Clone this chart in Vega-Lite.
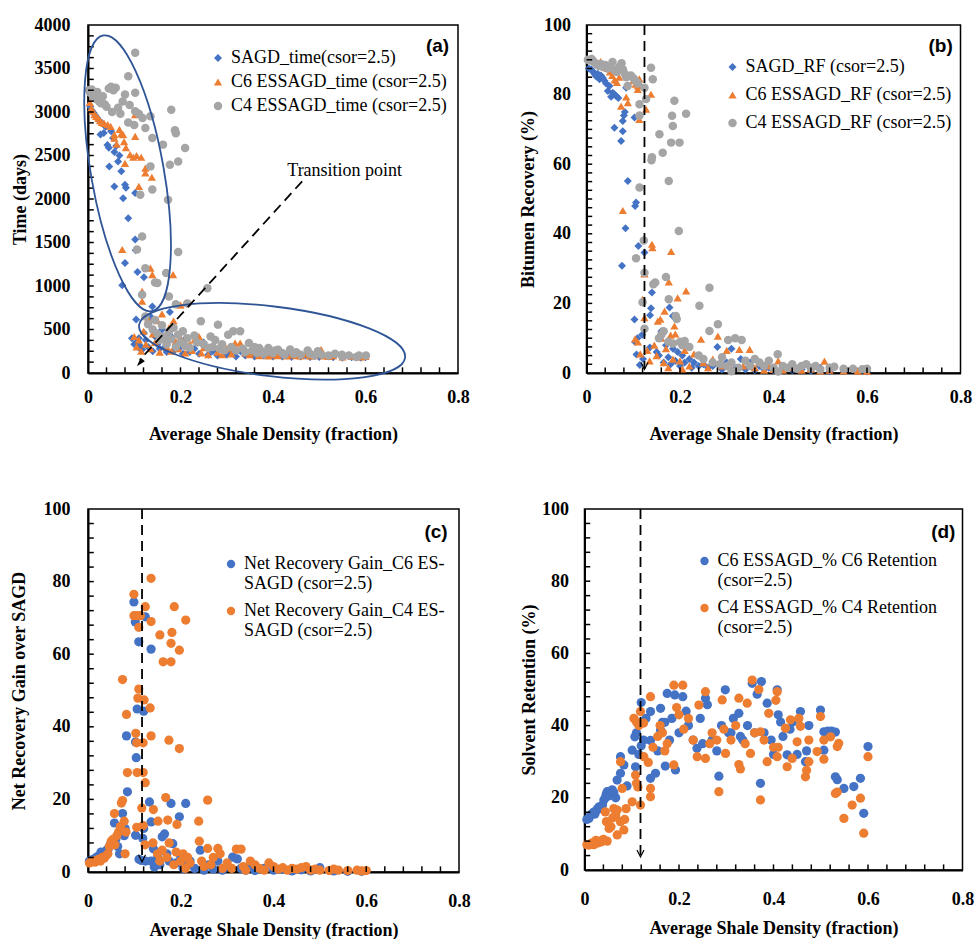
{
"$schema":"https://vega.github.io/schema/vega-lite/v6.json",
"background":"white",
"padding":{"top":15,"left":9,"right":0,"bottom":0},
"config":{
 "view":{"stroke":"black","strokeWidth":1.5},
 "axis":{"grid":false,"domainColor":"black","domainWidth":2,"ticks":false,"labelFont":"Liberation Serif","labelFontSize":18,"labelFontWeight":"bold","labelColor":"black","titleFont":"Liberation Serif","titleFontSize":18,"titleFontWeight":"bold","titleColor":"black","labelFlush":false,"labelOverlap":false},
 "legend":{"labelFont":"Liberation Serif","labelFontSize":18,"labelColor":"black","labelLimit":0}
},
"datasets":{
"xt":[{"t":0.04},{"t":0.08},{"t":0.12},{"t":0.16},{"t":0.2},{"t":0.24},{"t":0.28},{"t":0.32},{"t":0.36},{"t":0.4},{"t":0.44},{"t":0.48},{"t":0.52},{"t":0.56},{"t":0.6},{"t":0.64},{"t":0.68},{"t":0.72},{"t":0.76}],
"yta":[{"t":125},{"t":250},{"t":375},{"t":500},{"t":625},{"t":750},{"t":875},{"t":1000},{"t":1125},{"t":1250},{"t":1375},{"t":1500},{"t":1625},{"t":1750},{"t":1875},{"t":2000},{"t":2125},{"t":2250},{"t":2375},{"t":2500},{"t":2625},{"t":2750},{"t":2875},{"t":3000},{"t":3125},{"t":3250},{"t":3375},{"t":3500},{"t":3625},{"t":3750},{"t":3875}],
"ytb":[{"t":2.5},{"t":5},{"t":7.5},{"t":10},{"t":12.5},{"t":15},{"t":17.5},{"t":20},{"t":22.5},{"t":25},{"t":27.5},{"t":30},{"t":32.5},{"t":35},{"t":37.5},{"t":40},{"t":42.5},{"t":45},{"t":47.5},{"t":50},{"t":52.5},{"t":55},{"t":57.5},{"t":60},{"t":62.5},{"t":65},{"t":67.5},{"t":70},{"t":72.5},{"t":75},{"t":77.5},{"t":80},{"t":82.5},{"t":85},{"t":87.5},{"t":90},{"t":92.5},{"t":95},{"t":97.5}],
"ytc":[{"t":4},{"t":8},{"t":12},{"t":16},{"t":20},{"t":24},{"t":28},{"t":32},{"t":36},{"t":40},{"t":44},{"t":48},{"t":52},{"t":56},{"t":60},{"t":64},{"t":68},{"t":72},{"t":76},{"t":80},{"t":84},{"t":88},{"t":92},{"t":96}],
"a":[
{"s":"S","x":0.005,"y":3060},{"s":"S","x":0.008,"y":3020},{"s":"S","x":0.012,"y":2990},{"s":"S","x":0.016,"y":2960},{"s":"S","x":0.02,"y":2930},{"s":"S","x":0.024,"y":2900},{"s":"S","x":0.027,"y":2740},{"s":"S","x":0.031,"y":2870},{"s":"S","x":0.034,"y":2760},{"s":"S","x":0.038,"y":2830},{"s":"S","x":0.042,"y":2620},{"s":"S","x":0.045,"y":2590},{"s":"S","x":0.046,"y":2375},{"s":"S","x":0.05,"y":2780},{"s":"S","x":0.054,"y":2700},{"s":"S","x":0.057,"y":2540},{"s":"S","x":0.057,"y":2145},{"s":"S","x":0.061,"y":2610},{"s":"S","x":0.065,"y":2430},{"s":"S","x":0.068,"y":2500},{"s":"S","x":0.072,"y":2320},{"s":"S","x":0.076,"y":2010},{"s":"S","x":0.08,"y":2165},{"s":"S","x":0.082,"y":2130},{"s":"S","x":0.087,"y":1780},{"s":"S","x":0.102,"y":2070},{"s":"S","x":0.102,"y":1535},{"s":"S","x":0.103,"y":1410},{"s":"S","x":0.08,"y":1265},{"s":"S","x":0.107,"y":1160},{"s":"S","x":0.121,"y":1100},{"s":"S","x":0.074,"y":1010},{"s":"S","x":0.139,"y":765},{"s":"S","x":0.104,"y":615},{"s":"S","x":0.135,"y":650},{"s":"S","x":0.095,"y":400},{"s":"S","x":0.11,"y":400},{"s":"S","x":0.121,"y":460},{"s":"S","x":0.11,"y":290},{"s":"S","x":0.117,"y":270},
{"s":"S","x":0.1,"y":330},{"s":"S","x":0.105,"y":350},{"s":"S","x":0.113,"y":310},{"s":"S","x":0.125,"y":380},{"s":"S","x":0.13,"y":300},{"s":"S","x":0.14,"y":250},{"s":"S","x":0.145,"y":420},{"s":"S","x":0.15,"y":330},{"s":"S","x":0.155,"y":280},{"s":"S","x":0.16,"y":500},{"s":"S","x":0.165,"y":290},{"s":"S","x":0.17,"y":240},{"s":"S","x":0.177,"y":700},{"s":"S","x":0.18,"y":420},{"s":"S","x":0.185,"y":250},{"s":"S","x":0.19,"y":330},{"s":"S","x":0.2,"y":300},{"s":"S","x":0.205,"y":220},{"s":"S","x":0.21,"y":390},{"s":"S","x":0.22,"y":240},{"s":"S","x":0.23,"y":280},{"s":"S","x":0.24,"y":220},{"s":"S","x":0.25,"y":350},{"s":"S","x":0.26,"y":210},{"s":"S","x":0.27,"y":250},{"s":"S","x":0.28,"y":200},{"s":"S","x":0.29,"y":260},{"s":"S","x":0.3,"y":210},{"s":"S","x":0.31,"y":230},{"s":"S","x":0.32,"y":190},{"s":"S","x":0.33,"y":250},{"s":"S","x":0.34,"y":200},{"s":"S","x":0.35,"y":220},{"s":"S","x":0.36,"y":190},{"s":"S","x":0.37,"y":230},{"s":"S","x":0.38,"y":200},{"s":"S","x":0.39,"y":210},{"s":"S","x":0.4,"y":190},{"s":"S","x":0.41,"y":220},{"s":"S","x":0.42,"y":190},{"s":"S","x":0.43,"y":200},{"s":"S","x":0.44,"y":185},{"s":"S","x":0.45,"y":210},{"s":"S","x":0.46,"y":190},{"s":"S","x":0.47,"y":200},{"s":"S","x":0.48,"y":185},{"s":"S","x":0.49,"y":195},{"s":"S","x":0.5,"y":185},{"s":"S","x":0.52,"y":190},{"s":"S","x":0.53,"y":180},{"s":"S","x":0.55,"y":175},{"s":"S","x":0.57,"y":180},{"s":"S","x":0.59,"y":175},{"s":"S","x":0.6,"y":180},
{"s":"C6","x":0.004,"y":3110},{"s":"C6","x":0.0074,"y":3045},{"s":"C6","x":0.01,"y":3010},{"s":"C6","x":0.014,"y":2970},{"s":"C6","x":0.018,"y":2950},{"s":"C6","x":0.022,"y":2930},{"s":"C6","x":0.026,"y":2900},{"s":"C6","x":0.03,"y":2880},{"s":"C6","x":0.035,"y":2870},{"s":"C6","x":0.0425,"y":2855},{"s":"C6","x":0.049,"y":2835},{"s":"C6","x":0.057,"y":2740},{"s":"C6","x":0.057,"y":2700},{"s":"C6","x":0.062,"y":2630},{"s":"C6","x":0.068,"y":2800},{"s":"C6","x":0.072,"y":2750},{"s":"C6","x":0.076,"y":2740},{"s":"C6","x":0.078,"y":2660},{"s":"C6","x":0.082,"y":2590},{"s":"C6","x":0.08,"y":2410},{"s":"C6","x":0.091,"y":2510},{"s":"C6","x":0.098,"y":2480},{"s":"C6","x":0.102,"y":2720},{"s":"C6","x":0.102,"y":2970},{"s":"C6","x":0.105,"y":2500},{"s":"C6","x":0.115,"y":2480},{"s":"C6","x":0.124,"y":2355},{"s":"C6","x":0.124,"y":2300},{"s":"C6","x":0.138,"y":2250},{"s":"C6","x":0.11,"y":2145},{"s":"C6","x":0.074,"y":1420},{"s":"C6","x":0.135,"y":1205},{"s":"C6","x":0.139,"y":1130},{"s":"C6","x":0.184,"y":1130},{"s":"C6","x":0.117,"y":940},{"s":"C6","x":0.117,"y":825},{"s":"C6","x":0.21,"y":805},{"s":"C6","x":0.2,"y":780},
{"s":"C6","x":0.1,"y":420},{"s":"C6","x":0.105,"y":300},{"s":"C6","x":0.11,"y":380},{"s":"C6","x":0.115,"y":250},{"s":"C6","x":0.12,"y":480},{"s":"C6","x":0.125,"y":330},{"s":"C6","x":0.13,"y":620},{"s":"C6","x":0.135,"y":280},{"s":"C6","x":0.14,"y":450},{"s":"C6","x":0.145,"y":350},{"s":"C6","x":0.15,"y":600},{"s":"C6","x":0.155,"y":240},{"s":"C6","x":0.16,"y":680},{"s":"C6","x":0.165,"y":400},{"s":"C6","x":0.17,"y":300},{"s":"C6","x":0.175,"y":520},{"s":"C6","x":0.18,"y":250},{"s":"C6","x":0.185,"y":600},{"s":"C6","x":0.19,"y":360},{"s":"C6","x":0.195,"y":280},{"s":"C6","x":0.2,"y":400},{"s":"C6","x":0.21,"y":230},{"s":"C6","x":0.22,"y":330},{"s":"C6","x":0.225,"y":260},{"s":"C6","x":0.23,"y":380},{"s":"C6","x":0.24,"y":420},{"s":"C6","x":0.245,"y":230},{"s":"C6","x":0.25,"y":290},{"s":"C6","x":0.26,"y":210},{"s":"C6","x":0.27,"y":310},{"s":"C6","x":0.28,"y":240},{"s":"C6","x":0.29,"y":210},{"s":"C6","x":0.3,"y":280},{"s":"C6","x":0.31,"y":220},{"s":"C6","x":0.318,"y":345},{"s":"C6","x":0.329,"y":345},{"s":"C6","x":0.34,"y":230},{"s":"C6","x":0.35,"y":210},{"s":"C6","x":0.36,"y":240},{"s":"C6","x":0.37,"y":200},{"s":"C6","x":0.38,"y":220},{"s":"C6","x":0.39,"y":195},{"s":"C6","x":0.4,"y":210},{"s":"C6","x":0.41,"y":200},{"s":"C6","x":0.42,"y":230},{"s":"C6","x":0.43,"y":195},{"s":"C6","x":0.44,"y":210},{"s":"C6","x":0.45,"y":200},{"s":"C6","x":0.46,"y":195},{"s":"C6","x":0.47,"y":215},{"s":"C6","x":0.48,"y":195},{"s":"C6","x":0.49,"y":200},{"s":"C6","x":0.504,"y":270},{"s":"C6","x":0.51,"y":195},{"s":"C6","x":0.52,"y":190},{"s":"C6","x":0.53,"y":200},{"s":"C6","x":0.55,"y":185},{"s":"C6","x":0.57,"y":190},{"s":"C6","x":0.59,"y":185},{"s":"C6","x":0.6,"y":190},
{"s":"C4","x":0.002,"y":3250},{"s":"C4","x":0.005,"y":3220},{"s":"C4","x":0.008,"y":3260},{"s":"C4","x":0.011,"y":3180},{"s":"C4","x":0.014,"y":3200},{"s":"C4","x":0.017,"y":3150},{"s":"C4","x":0.02,"y":3230},{"s":"C4","x":0.024,"y":3120},{"s":"C4","x":0.028,"y":3100},{"s":"C4","x":0.032,"y":3180},{"s":"C4","x":0.036,"y":3090},{"s":"C4","x":0.04,"y":3060},{"s":"C4","x":0.045,"y":3270},{"s":"C4","x":0.05,"y":3290},{"s":"C4","x":0.055,"y":3250},{"s":"C4","x":0.06,"y":3280},{"s":"C4","x":0.052,"y":3000},{"s":"C4","x":0.065,"y":3050},{"s":"C4","x":0.07,"y":2980},{"s":"C4","x":0.075,"y":3120},{"s":"C4","x":0.08,"y":3200},{"s":"C4","x":0.087,"y":3410},{"s":"C4","x":0.102,"y":3680},{"s":"C4","x":0.102,"y":3220},{"s":"C4","x":0.09,"y":3080},{"s":"C4","x":0.102,"y":3010},{"s":"C4","x":0.11,"y":2980},{"s":"C4","x":0.118,"y":2930},{"s":"C4","x":0.087,"y":2880},{"s":"C4","x":0.1,"y":2850},{"s":"C4","x":0.124,"y":2815},{"s":"C4","x":0.135,"y":2950},{"s":"C4","x":0.18,"y":3025},{"s":"C4","x":0.139,"y":2700},{"s":"C4","x":0.162,"y":2625},{"s":"C4","x":0.188,"y":2790},{"s":"C4","x":0.19,"y":2757},{"s":"C4","x":0.21,"y":2585},{"s":"C4","x":0.135,"y":2375},{"s":"C4","x":0.177,"y":2395},{"s":"C4","x":0.195,"y":2430},{"s":"C4","x":0.113,"y":2050},{"s":"C4","x":0.139,"y":2110},{"s":"C4","x":0.173,"y":1990},{"s":"C4","x":0.117,"y":1570},{"s":"C4","x":0.106,"y":1420},{"s":"C4","x":0.195,"y":1390},{"s":"C4","x":0.124,"y":1205},{"s":"C4","x":0.15,"y":1035},{"s":"C4","x":0.145,"y":1040},{"s":"C4","x":0.169,"y":1150},{"s":"C4","x":0.117,"y":900},{"s":"C4","x":0.258,"y":975},{"s":"C4","x":0.175,"y":880},{"s":"C4","x":0.19,"y":790},{"s":"C4","x":0.215,"y":800},
{"s":"C4","x":0.124,"y":650},{"s":"C4","x":0.13,"y":560},{"s":"C4","x":0.14,"y":500},{"s":"C4","x":0.145,"y":610},{"s":"C4","x":0.15,"y":450},{"s":"C4","x":0.155,"y":380},{"s":"C4","x":0.16,"y":550},{"s":"C4","x":0.165,"y":420},{"s":"C4","x":0.17,"y":330},{"s":"C4","x":0.175,"y":480},{"s":"C4","x":0.18,"y":390},{"s":"C4","x":0.185,"y":520},{"s":"C4","x":0.19,"y":300},{"s":"C4","x":0.195,"y":440},{"s":"C4","x":0.2,"y":350},{"s":"C4","x":0.205,"y":480},{"s":"C4","x":0.21,"y":310},{"s":"C4","x":0.215,"y":400},{"s":"C4","x":0.22,"y":290},{"s":"C4","x":0.23,"y":430},{"s":"C4","x":0.236,"y":350},{"s":"C4","x":0.244,"y":595},{"s":"C4","x":0.25,"y":330},{"s":"C4","x":0.26,"y":290},{"s":"C4","x":0.265,"y":420},{"s":"C4","x":0.27,"y":300},{"s":"C4","x":0.275,"y":380},{"s":"C4","x":0.281,"y":556},{"s":"C4","x":0.285,"y":280},{"s":"C4","x":0.29,"y":330},{"s":"C4","x":0.295,"y":260},{"s":"C4","x":0.303,"y":440},{"s":"C4","x":0.31,"y":300},{"s":"C4","x":0.314,"y":480},{"s":"C4","x":0.32,"y":260},{"s":"C4","x":0.329,"y":480},{"s":"C4","x":0.335,"y":280},{"s":"C4","x":0.34,"y":240},{"s":"C4","x":0.348,"y":345},{"s":"C4","x":0.355,"y":260},{"s":"C4","x":0.36,"y":300},{"s":"C4","x":0.365,"y":230},{"s":"C4","x":0.37,"y":287},{"s":"C4","x":0.375,"y":250},{"s":"C4","x":0.38,"y":220},{"s":"C4","x":0.39,"y":287},{"s":"C4","x":0.395,"y":240},{"s":"C4","x":0.4,"y":230},{"s":"C4","x":0.405,"y":260},{"s":"C4","x":0.411,"y":268},{"s":"C4","x":0.42,"y":230},{"s":"C4","x":0.425,"y":210},{"s":"C4","x":0.437,"y":270},{"s":"C4","x":0.445,"y":220},{"s":"C4","x":0.45,"y":240},{"s":"C4","x":0.46,"y":210},{"s":"C4","x":0.475,"y":260},{"s":"C4","x":0.48,"y":220},{"s":"C4","x":0.49,"y":200},{"s":"C4","x":0.497,"y":250},{"s":"C4","x":0.505,"y":210},{"s":"C4","x":0.52,"y":200},{"s":"C4","x":0.534,"y":222},{"s":"C4","x":0.549,"y":210},{"s":"C4","x":0.564,"y":200},{"s":"C4","x":0.586,"y":200},{"s":"C4","x":0.601,"y":200},{"s":"C4","x":0.58,"y":185},{"s":"C4","x":0.55,"y":190}
],
"b":[
{"s":"S","x":0.005,"y":87.5},{"s":"S","x":0.0098,"y":87.3},{"s":"S","x":0.012,"y":86.8},{"s":"S","x":0.015,"y":86.5},{"s":"S","x":0.018,"y":85.8},{"s":"S","x":0.021,"y":85.2},{"s":"S","x":0.024,"y":86},{"s":"S","x":0.0278,"y":84.4},{"s":"S","x":0.031,"y":85.5},{"s":"S","x":0.035,"y":84.8},{"s":"S","x":0.0385,"y":84},{"s":"S","x":0.042,"y":83.2},{"s":"S","x":0.0456,"y":81},{"s":"S","x":0.049,"y":82.5},{"s":"S","x":0.0527,"y":79.4},{"s":"S","x":0.056,"y":80.5},{"s":"S","x":0.06,"y":80},{"s":"S","x":0.064,"y":79.5},{"s":"S","x":0.068,"y":79},{"s":"S","x":0.0598,"y":70.5},{"s":"S","x":0.0776,"y":69.5},{"s":"S","x":0.074,"y":66.7},{"s":"S","x":0.0776,"y":72.4},{"s":"S","x":0.08,"y":74},{"s":"S","x":0.082,"y":75},{"s":"S","x":0.0848,"y":82},{"s":"S","x":0.1027,"y":73.4},{"s":"S","x":0.0884,"y":55.2},{"s":"S","x":0.104,"y":48},{"s":"S","x":0.106,"y":49},{"s":"S","x":0.0834,"y":41.6},{"s":"S","x":0.111,"y":36.5},{"s":"S","x":0.124,"y":34.6},{"s":"S","x":0.076,"y":30.8},{"s":"S","x":0.14,"y":23.1},{"s":"S","x":0.138,"y":18.6},{"s":"S","x":0.1027,"y":15.4},{"s":"S","x":0.136,"y":16.6},{"s":"S","x":0.1775,"y":18.8},{"s":"S","x":0.1846,"y":16.4},{"s":"S","x":0.104,"y":8.9},{"s":"S","x":0.109,"y":10},{"s":"S","x":0.1355,"y":7.3},{"s":"S","x":0.107,"y":5.3},{"s":"S","x":0.114,"y":2.3},{"s":"S","x":0.119,"y":11},{"s":"S","x":0.121,"y":4},{"s":"S","x":0.15,"y":6},{"s":"S","x":0.155,"y":5},{"s":"S","x":0.16,"y":12},{"s":"S","x":0.165,"y":3},{"s":"S","x":0.17,"y":8},{"s":"S","x":0.175,"y":4.5},{"s":"S","x":0.18,"y":2.5},{"s":"S","x":0.185,"y":7},{"s":"S","x":0.19,"y":3.5},{"s":"S","x":0.195,"y":6},{"s":"S","x":0.2,"y":2},{"s":"S","x":0.205,"y":5},{"s":"S","x":0.21,"y":3},{"s":"S","x":0.22,"y":4},{"s":"S","x":0.225,"y":1.5},{"s":"S","x":0.23,"y":3},{"s":"S","x":0.24,"y":2},{"s":"S","x":0.25,"y":2.5},{"s":"S","x":0.26,"y":1.5},{"s":"S","x":0.27,"y":2},{"s":"S","x":0.28,"y":7.5},{"s":"S","x":0.29,"y":1},{"s":"S","x":0.3,"y":3},{"s":"S","x":0.31,"y":7},{"s":"S","x":0.32,"y":1.5},{"s":"S","x":0.33,"y":4},{"s":"S","x":0.34,"y":1},{"s":"S","x":0.35,"y":3},{"s":"S","x":0.36,"y":0.8},{"s":"S","x":0.37,"y":2},{"s":"S","x":0.38,"y":1},{"s":"S","x":0.39,"y":1.5},{"s":"S","x":0.4,"y":0.8},{"s":"S","x":0.42,"y":1.2},{"s":"S","x":0.44,"y":0.8},{"s":"S","x":0.46,"y":1},{"s":"S","x":0.48,"y":0.6},{"s":"S","x":0.5,"y":1.5},{"s":"S","x":0.52,"y":0.5},{"s":"S","x":0.55,"y":0.6},{"s":"S","x":0.58,"y":0.5},{"s":"S","x":0.6,"y":0.4},
{"s":"C6","x":0.005,"y":90},{"s":"C6","x":0.01,"y":90},{"s":"C6","x":0.015,"y":89.8},{"s":"C6","x":0.02,"y":89.5},{"s":"C6","x":0.025,"y":89},{"s":"C6","x":0.03,"y":89.5},{"s":"C6","x":0.035,"y":88.8},{"s":"C6","x":0.04,"y":88.2},{"s":"C6","x":0.045,"y":87.5},{"s":"C6","x":0.05,"y":86.5},{"s":"C6","x":0.055,"y":85.5},{"s":"C6","x":0.06,"y":84.2},{"s":"C6","x":0.065,"y":83.5},{"s":"C6","x":0.07,"y":85},{"s":"C6","x":0.074,"y":76.7},{"s":"C6","x":0.085,"y":79.3},{"s":"C6","x":0.0884,"y":77.7},{"s":"C6","x":0.1,"y":84},{"s":"C6","x":0.105,"y":83},{"s":"C6","x":0.11,"y":82.5},{"s":"C6","x":0.113,"y":84.5},{"s":"C6","x":0.1097,"y":81.5},{"s":"C6","x":0.113,"y":72.9},{"s":"C6","x":0.138,"y":80.1},{"s":"C6","x":0.1275,"y":75.8},{"s":"C6","x":0.0777,"y":46.7},{"s":"C6","x":0.14,"y":37},{"s":"C6","x":0.141,"y":36},{"s":"C6","x":0.181,"y":34.9},{"s":"C6","x":0.176,"y":26.2},{"s":"C6","x":0.213,"y":23.6},{"s":"C6","x":0.195,"y":21.6},{"s":"C6","x":0.12,"y":21.2},{"s":"C6","x":0.124,"y":28.5},{"s":"C6","x":0.124,"y":15.9},{"s":"C6","x":0.167,"y":17.8},{"s":"C6","x":0.1525,"y":14.9},{"s":"C6","x":0.158,"y":15.5},{"s":"C6","x":0.188,"y":13.5},{"s":"C6","x":0.18,"y":10.9},{"s":"C6","x":0.19,"y":11.2},{"s":"C6","x":0.104,"y":9.8},{"s":"C6","x":0.11,"y":8.9},{"s":"C6","x":0.115,"y":5.5},{"s":"C6","x":0.13,"y":6.5},{"s":"C6","x":0.135,"y":3.5},{"s":"C6","x":0.145,"y":8},{"s":"C6","x":0.15,"y":5},{"s":"C6","x":0.16,"y":10},{"s":"C6","x":0.165,"y":3},{"s":"C6","x":0.17,"y":7},{"s":"C6","x":0.175,"y":1.5},{"s":"C6","x":0.185,"y":4},{"s":"C6","x":0.2,"y":3.5},{"s":"C6","x":0.205,"y":1.2},{"s":"C6","x":0.21,"y":6.5},{"s":"C6","x":0.22,"y":2},{"s":"C6","x":0.23,"y":5.5},{"s":"C6","x":0.245,"y":9.7},{"s":"C6","x":0.25,"y":3},{"s":"C6","x":0.26,"y":1.5},{"s":"C6","x":0.27,"y":4},{"s":"C6","x":0.281,"y":10.6},{"s":"C6","x":0.29,"y":2},{"s":"C6","x":0.3,"y":6.5},{"s":"C6","x":0.31,"y":1.2},{"s":"C6","x":0.327,"y":6.8},{"s":"C6","x":0.335,"y":2},{"s":"C6","x":0.349,"y":6.8},{"s":"C6","x":0.36,"y":1.5},{"s":"C6","x":0.37,"y":3},{"s":"C6","x":0.38,"y":0.8},{"s":"C6","x":0.39,"y":2},{"s":"C6","x":0.4,"y":1},{"s":"C6","x":0.41,"y":3.5},{"s":"C6","x":0.42,"y":0.8},{"s":"C6","x":0.44,"y":1.5},{"s":"C6","x":0.46,"y":0.8},{"s":"C6","x":0.48,"y":1.2},{"s":"C6","x":0.5,"y":0.6},{"s":"C6","x":0.509,"y":3.4},{"s":"C6","x":0.52,"y":0.8},{"s":"C6","x":0.55,"y":0.6},{"s":"C6","x":0.58,"y":0.5},{"s":"C6","x":0.6,"y":0.5},
{"s":"C4","x":0.003,"y":90},{"s":"C4","x":0.007,"y":89.8},{"s":"C4","x":0.011,"y":90.2},{"s":"C4","x":0.015,"y":89.5},{"s":"C4","x":0.019,"y":89},{"s":"C4","x":0.023,"y":88.6},{"s":"C4","x":0.027,"y":88.2},{"s":"C4","x":0.031,"y":88.8},{"s":"C4","x":0.035,"y":87.9},{"s":"C4","x":0.04,"y":88.5},{"s":"C4","x":0.045,"y":87.5},{"s":"C4","x":0.05,"y":88},{"s":"C4","x":0.0556,"y":89.4},{"s":"C4","x":0.06,"y":87},{"s":"C4","x":0.065,"y":86.5},{"s":"C4","x":0.07,"y":88},{"s":"C4","x":0.075,"y":89},{"s":"C4","x":0.078,"y":87.2},{"s":"C4","x":0.082,"y":86},{"s":"C4","x":0.085,"y":85},{"s":"C4","x":0.088,"y":82.5},{"s":"C4","x":0.095,"y":85.5},{"s":"C4","x":0.1,"y":84.8},{"s":"C4","x":0.105,"y":84},{"s":"C4","x":0.11,"y":83.2},{"s":"C4","x":0.124,"y":82},{"s":"C4","x":0.138,"y":87.7},{"s":"C4","x":0.1418,"y":84.4},{"s":"C4","x":0.1275,"y":78.7},{"s":"C4","x":0.1134,"y":77.2},{"s":"C4","x":0.1134,"y":74},{"s":"C4","x":0.188,"y":78.2},{"s":"C4","x":0.213,"y":74.5},{"s":"C4","x":0.183,"y":73.9},{"s":"C4","x":0.1846,"y":71},{"s":"C4","x":0.156,"y":68.6},{"s":"C4","x":0.181,"y":66.2},{"s":"C4","x":0.199,"y":66.2},{"s":"C4","x":0.139,"y":61.1},{"s":"C4","x":0.14,"y":62},{"s":"C4","x":0.163,"y":63.3},{"s":"C4","x":0.1134,"y":53.3},{"s":"C4","x":0.176,"y":55.2},{"s":"C4","x":0.1975,"y":40.8},{"s":"C4","x":0.1226,"y":38.1},{"s":"C4","x":0.106,"y":33},{"s":"C4","x":0.124,"y":28.8},{"s":"C4","x":0.143,"y":25.5},{"s":"C4","x":0.147,"y":26},{"s":"C4","x":0.17,"y":27.6},{"s":"C4","x":0.263,"y":24.5},{"s":"C4","x":0.176,"y":21.2},{"s":"C4","x":0.12,"y":20.3},{"s":"C4","x":0.191,"y":16.4},{"s":"C4","x":0.193,"y":15.5},{"s":"C4","x":0.2415,"y":19.3},{"s":"C4","x":0.124,"y":12.7},{"s":"C4","x":0.16,"y":11},{"s":"C4","x":0.165,"y":12},{"s":"C4","x":0.155,"y":10},{"s":"C4","x":0.175,"y":9},{"s":"C4","x":0.185,"y":8.5},{"s":"C4","x":0.2,"y":9},{"s":"C4","x":0.205,"y":8},{"s":"C4","x":0.21,"y":9.2},{"s":"C4","x":0.22,"y":7.5},{"s":"C4","x":0.263,"y":12.1},{"s":"C4","x":0.281,"y":14},{"s":"C4","x":0.303,"y":9.5},{"s":"C4","x":0.318,"y":10},{"s":"C4","x":0.332,"y":9.5},{"s":"C4","x":0.24,"y":5},{"s":"C4","x":0.25,"y":4},{"s":"C4","x":0.27,"y":3},{"s":"C4","x":0.285,"y":2.5},{"s":"C4","x":0.29,"y":4.5},{"s":"C4","x":0.3,"y":2},{"s":"C4","x":0.31,"y":3},{"s":"C4","x":0.325,"y":1.5},{"s":"C4","x":0.34,"y":3.5},{"s":"C4","x":0.35,"y":2},{"s":"C4","x":0.36,"y":4},{"s":"C4","x":0.37,"y":3},{"s":"C4","x":0.38,"y":2},{"s":"C4","x":0.39,"y":3.5},{"s":"C4","x":0.4,"y":1.5},{"s":"C4","x":0.409,"y":5.4},{"s":"C4","x":0.42,"y":2},{"s":"C4","x":0.43,"y":1.5},{"s":"C4","x":0.44,"y":2.5},{"s":"C4","x":0.45,"y":1.2},{"s":"C4","x":0.46,"y":2},{"s":"C4","x":0.47,"y":2.5},{"s":"C4","x":0.48,"y":1.5},{"s":"C4","x":0.49,"y":2},{"s":"C4","x":0.5,"y":1},{"s":"C4","x":0.52,"y":1.5},{"s":"C4","x":0.53,"y":1.8},{"s":"C4","x":0.55,"y":1.2},{"s":"C4","x":0.57,"y":1.2},{"s":"C4","x":0.59,"y":1.1},{"s":"C4","x":0.6,"y":1.2},{"s":"C4","x":0.31,"y":0.5},{"s":"C4","x":0.41,"y":0.4}
],
"c":[
{"s":"B","x":0.003,"y":3},{"s":"B","x":0.008,"y":3.3},{"s":"B","x":0.012,"y":3.5},{"s":"B","x":0.016,"y":3.8},{"s":"B","x":0.02,"y":4.2},{"s":"B","x":0.024,"y":4.5},{"s":"B","x":0.028,"y":5.5},{"s":"B","x":0.032,"y":4.5},{"s":"B","x":0.036,"y":5},{"s":"B","x":0.04,"y":6},{"s":"B","x":0.044,"y":6.5},{"s":"B","x":0.048,"y":7.5},{"s":"B","x":0.052,"y":8},{"s":"B","x":0.057,"y":13.5},{"s":"B","x":0.06,"y":9},{"s":"B","x":0.064,"y":7},{"s":"B","x":0.068,"y":5},{"s":"B","x":0.0745,"y":16.1},{"s":"B","x":0.078,"y":10},{"s":"B","x":0.08,"y":12},{"s":"B","x":0.085,"y":22.1},{"s":"B","x":0.083,"y":37.5},{"s":"B","x":0.099,"y":74.4},{"s":"B","x":0.102,"y":68.9},{"s":"B","x":0.1235,"y":70.3},{"s":"B","x":0.1095,"y":63.4},{"s":"B","x":0.136,"y":61.4},{"s":"B","x":0.106,"y":44.9},{"s":"B","x":0.12,"y":44.3},{"s":"B","x":0.1025,"y":35.8},{"s":"B","x":0.104,"y":31.5},{"s":"B","x":0.1326,"y":19.3},{"s":"B","x":0.179,"y":18.9},{"s":"B","x":0.2107,"y":18.9},{"s":"B","x":0.197,"y":15.2},{"s":"B","x":0.136,"y":13.8},{"s":"B","x":0.16,"y":9.7},{"s":"B","x":0.165,"y":10.5},{"s":"B","x":0.1828,"y":7.8},{"s":"B","x":0.1026,"y":10.1},{"s":"B","x":0.118,"y":9.3},{"s":"B","x":0.12,"y":12},{"s":"B","x":0.141,"y":6.4},{"s":"B","x":0.11,"y":3.5},{"s":"B","x":0.115,"y":3.2},{"s":"B","x":0.124,"y":3},{"s":"B","x":0.136,"y":3},{"s":"B","x":0.143,"y":1.4},{"s":"B","x":0.15,"y":4},{"s":"B","x":0.155,"y":2},{"s":"B","x":0.17,"y":5},{"s":"B","x":0.175,"y":3},{"s":"B","x":0.19,"y":2.5},{"s":"B","x":0.2,"y":4},{"s":"B","x":0.205,"y":1},{"s":"B","x":0.215,"y":2},{"s":"B","x":0.22,"y":3},{"s":"B","x":0.23,"y":1},{"s":"B","x":0.242,"y":6},{"s":"B","x":0.25,"y":0.5},{"s":"B","x":0.26,"y":2},{"s":"B","x":0.27,"y":0.8},{"s":"B","x":0.28,"y":3},{"s":"B","x":0.29,"y":0.5},{"s":"B","x":0.3,"y":1.5},{"s":"B","x":0.312,"y":4.1},{"s":"B","x":0.322,"y":3.6},{"s":"B","x":0.33,"y":1},{"s":"B","x":0.34,"y":0.5},{"s":"B","x":0.35,"y":1.5},{"s":"B","x":0.36,"y":0.4},{"s":"B","x":0.38,"y":1},{"s":"B","x":0.4,"y":0.5},{"s":"B","x":0.42,"y":0.8},{"s":"B","x":0.44,"y":0.3},{"s":"B","x":0.46,"y":0.6},{"s":"B","x":0.48,"y":0.3},{"s":"B","x":0.5,"y":1.2},{"s":"B","x":0.53,"y":0.3},{"s":"B","x":0.56,"y":0.2},{"s":"B","x":0.59,"y":0.2},
{"s":"O","x":0.003,"y":2.5},{"s":"O","x":0.007,"y":2.8},{"s":"O","x":0.011,"y":3},{"s":"O","x":0.015,"y":2.7},{"s":"O","x":0.019,"y":3.2},{"s":"O","x":0.023,"y":3.5},{"s":"O","x":0.027,"y":3},{"s":"O","x":0.031,"y":4},{"s":"O","x":0.035,"y":3.8},{"s":"O","x":0.039,"y":4.5},{"s":"O","x":0.043,"y":5},{"s":"O","x":0.046,"y":7},{"s":"O","x":0.05,"y":8.5},{"s":"O","x":0.054,"y":9},{"s":"O","x":0.058,"y":7.5},{"s":"O","x":0.062,"y":10},{"s":"O","x":0.066,"y":11},{"s":"O","x":0.07,"y":12.5},{"s":"O","x":0.072,"y":19},{"s":"O","x":0.0745,"y":19.7},{"s":"O","x":0.078,"y":14},{"s":"O","x":0.082,"y":11},{"s":"O","x":0.057,"y":16.1},{"s":"O","x":0.08,"y":5},{"s":"O","x":0.0745,"y":53},{"s":"O","x":0.085,"y":27.4},{"s":"O","x":0.083,"y":43.4},{"s":"O","x":0.099,"y":76.5},{"s":"O","x":0.099,"y":70.6},{"s":"O","x":0.106,"y":70.6},{"s":"O","x":0.113,"y":70.6},{"s":"O","x":0.1235,"y":73.1},{"s":"O","x":0.136,"y":69},{"s":"O","x":0.1095,"y":67.4},{"s":"O","x":0.136,"y":80.9},{"s":"O","x":0.186,"y":73.1},{"s":"O","x":0.2107,"y":69.4},{"s":"O","x":0.155,"y":65.3},{"s":"O","x":0.181,"y":66},{"s":"O","x":0.179,"y":63},{"s":"O","x":0.197,"y":61.1},{"s":"O","x":0.162,"y":57.9},{"s":"O","x":0.179,"y":57.9},{"s":"O","x":0.1095,"y":50.4},{"s":"O","x":0.1075,"y":47.9},{"s":"O","x":0.121,"y":47.4},{"s":"O","x":0.134,"y":45.2},{"s":"O","x":0.103,"y":38.2},{"s":"O","x":0.136,"y":37.5},{"s":"O","x":0.105,"y":35.6},{"s":"O","x":0.119,"y":35.6},{"s":"O","x":0.1745,"y":36.3},{"s":"O","x":0.197,"y":34},{"s":"O","x":0.106,"y":27.4},{"s":"O","x":0.119,"y":27.4},{"s":"O","x":0.1235,"y":24.6},{"s":"O","x":0.116,"y":17.6},{"s":"O","x":0.141,"y":17.2},{"s":"O","x":0.1675,"y":20.5},{"s":"O","x":0.258,"y":19.8},{"s":"O","x":0.2387,"y":14},{"s":"O","x":0.151,"y":14},{"s":"O","x":0.172,"y":14.3},{"s":"O","x":0.1918,"y":13.1},{"s":"O","x":0.105,"y":12.3},{"s":"O","x":0.119,"y":12.8},{"s":"O","x":0.123,"y":7.5},{"s":"O","x":0.14,"y":8},{"s":"O","x":0.15,"y":5},{"s":"O","x":0.155,"y":3},{"s":"O","x":0.16,"y":6},{"s":"O","x":0.17,"y":4},{"s":"O","x":0.175,"y":8},{"s":"O","x":0.185,"y":2},{"s":"O","x":0.19,"y":5.5},{"s":"O","x":0.2,"y":3},{"s":"O","x":0.205,"y":5},{"s":"O","x":0.21,"y":1},{"s":"O","x":0.215,"y":4},{"s":"O","x":0.22,"y":2.5},{"s":"O","x":0.24,"y":8.5},{"s":"O","x":0.245,"y":3},{"s":"O","x":0.25,"y":1.5},{"s":"O","x":0.258,"y":6.5},{"s":"O","x":0.265,"y":2},{"s":"O","x":0.27,"y":4},{"s":"O","x":0.28,"y":6.5},{"s":"O","x":0.285,"y":5},{"s":"O","x":0.29,"y":1},{"s":"O","x":0.3,"y":2.5},{"s":"O","x":0.31,"y":1},{"s":"O","x":0.32,"y":6.3},{"s":"O","x":0.33,"y":6.3},{"s":"O","x":0.335,"y":1.5},{"s":"O","x":0.34,"y":0.5},{"s":"O","x":0.35,"y":3},{"s":"O","x":0.36,"y":2},{"s":"O","x":0.37,"y":1},{"s":"O","x":0.38,"y":0.5},{"s":"O","x":0.39,"y":2.5},{"s":"O","x":0.4,"y":1.5},{"s":"O","x":0.41,"y":0.8},{"s":"O","x":0.42,"y":1.2},{"s":"O","x":0.43,"y":0.5},{"s":"O","x":0.44,"y":1},{"s":"O","x":0.45,"y":0.8},{"s":"O","x":0.46,"y":1.2},{"s":"O","x":0.47,"y":1.5},{"s":"O","x":0.48,"y":0.5},{"s":"O","x":0.49,"y":0.8},{"s":"O","x":0.5,"y":0.5},{"s":"O","x":0.52,"y":0.4},{"s":"O","x":0.53,"y":0.8},{"s":"O","x":0.54,"y":0.5},{"s":"O","x":0.56,"y":0.4},{"s":"O","x":0.58,"y":0.5},{"s":"O","x":0.59,"y":0.3},{"s":"O","x":0.6,"y":0.4}
],
"d":[
{"s":"B","x":0.005,"y":14},{"s":"B","x":0.0093,"y":14.3},{"s":"B","x":0.012,"y":15},{"s":"B","x":0.015,"y":15.5},{"s":"B","x":0.019,"y":16},{"s":"B","x":0.022,"y":15.5},{"s":"B","x":0.025,"y":16.5},{"s":"B","x":0.028,"y":17},{"s":"B","x":0.031,"y":17.5},{"s":"B","x":0.034,"y":17},{"s":"B","x":0.038,"y":18},{"s":"B","x":0.041,"y":19.4},{"s":"B","x":0.044,"y":20},{"s":"B","x":0.046,"y":21},{"s":"B","x":0.048,"y":21.7},{"s":"B","x":0.051,"y":20.5},{"s":"B","x":0.0586,"y":22.2},{"s":"B","x":0.062,"y":21.5},{"s":"B","x":0.066,"y":20},{"s":"B","x":0.069,"y":24.9},{"s":"B","x":0.0762,"y":26.8},{"s":"B","x":0.0762,"y":31.4},{"s":"B","x":0.0833,"y":29.1},{"s":"B","x":0.09,"y":23.3},{"s":"B","x":0.1009,"y":33.2},{"s":"B","x":0.1066,"y":36.9},{"s":"B","x":0.11,"y":38},{"s":"B","x":0.115,"y":32},{"s":"B","x":0.108,"y":28.6},{"s":"B","x":0.12,"y":46.4},{"s":"B","x":0.12,"y":34.4},{"s":"B","x":0.125,"y":36},{"s":"B","x":0.13,"y":42},{"s":"B","x":0.1397,"y":43.9},{"s":"B","x":0.1397,"y":35.9},{"s":"B","x":0.1397,"y":25.4},{"s":"B","x":0.1503,"y":26.8},{"s":"B","x":0.155,"y":33},{"s":"B","x":0.161,"y":38.8},{"s":"B","x":0.165,"y":40.9},{"s":"B","x":0.17,"y":40.9},{"s":"B","x":0.161,"y":44.8},{"s":"B","x":0.175,"y":48.9},{"s":"B","x":0.171,"y":28.8},{"s":"B","x":0.18,"y":36},{"s":"B","x":0.185,"y":42},{"s":"B","x":0.191,"y":48.5},{"s":"B","x":0.1926,"y":27.7},{"s":"B","x":0.2,"y":38},{"s":"B","x":0.208,"y":48},{"s":"B","x":0.215,"y":44},{"s":"B","x":0.22,"y":40},{"s":"B","x":0.23,"y":36},{"s":"B","x":0.238,"y":33.7},{"s":"B","x":0.245,"y":42},{"s":"B","x":0.256,"y":47.6},{"s":"B","x":0.26,"y":45.8},{"s":"B","x":0.27,"y":36},{"s":"B","x":0.2844,"y":26},{"s":"B","x":0.29,"y":40},{"s":"B","x":0.298,"y":49.9},{"s":"B","x":0.305,"y":38},{"s":"B","x":0.315,"y":42},{"s":"B","x":0.3267,"y":43.4},{"s":"B","x":0.335,"y":36},{"s":"B","x":0.3549,"y":51.7},{"s":"B","x":0.3745,"y":52.2},{"s":"B","x":0.3654,"y":48.7},{"s":"B","x":0.3866,"y":46.2},{"s":"B","x":0.3724,"y":24},{"s":"B","x":0.345,"y":40},{"s":"B","x":0.38,"y":38},{"s":"B","x":0.395,"y":36},{"s":"B","x":0.4078,"y":49.9},{"s":"B","x":0.41,"y":43},{"s":"B","x":0.415,"y":41},{"s":"B","x":0.42,"y":37},{"s":"B","x":0.4289,"y":31.9},{"s":"B","x":0.435,"y":39},{"s":"B","x":0.44,"y":41},{"s":"B","x":0.457,"y":43.9},{"s":"B","x":0.4677,"y":30},{"s":"B","x":0.4748,"y":40},{"s":"B","x":0.4994,"y":44.3},{"s":"B","x":0.5066,"y":38.3},{"s":"B","x":0.5066,"y":33.2},{"s":"B","x":0.515,"y":38.5},{"s":"B","x":0.523,"y":38.5},{"s":"B","x":0.531,"y":38.2},{"s":"B","x":0.531,"y":25.8},{"s":"B","x":0.535,"y":25},{"s":"B","x":0.549,"y":22.6},{"s":"B","x":0.57,"y":23.1},{"s":"B","x":0.584,"y":25.4},{"s":"B","x":0.591,"y":15.7},{"s":"B","x":0.6,"y":34.2},{"s":"B","x":0.25,"y":35},{"s":"B","x":0.28,"y":33},{"s":"B","x":0.31,"y":38},{"s":"B","x":0.33,"y":37},{"s":"B","x":0.36,"y":38},{"s":"B","x":0.4,"y":32},{"s":"B","x":0.45,"y":32},{"s":"B","x":0.47,"y":33},
{"s":"O","x":0.005,"y":7},{"s":"O","x":0.0093,"y":6.9},{"s":"O","x":0.012,"y":7.2},{"s":"O","x":0.016,"y":7.5},{"s":"O","x":0.02,"y":7},{"s":"O","x":0.024,"y":8.2},{"s":"O","x":0.028,"y":7.5},{"s":"O","x":0.032,"y":8},{"s":"O","x":0.036,"y":7.8},{"s":"O","x":0.04,"y":8.5},{"s":"O","x":0.044,"y":16.1},{"s":"O","x":0.0465,"y":13.4},{"s":"O","x":0.048,"y":8},{"s":"O","x":0.052,"y":11.5},{"s":"O","x":0.056,"y":12},{"s":"O","x":0.06,"y":14.5},{"s":"O","x":0.062,"y":17},{"s":"O","x":0.066,"y":15},{"s":"O","x":0.0692,"y":16.6},{"s":"O","x":0.0692,"y":9.7},{"s":"O","x":0.076,"y":13.4},{"s":"O","x":0.0833,"y":11.1},{"s":"O","x":0.085,"y":14},{"s":"O","x":0.088,"y":17},{"s":"O","x":0.0762,"y":30},{"s":"O","x":0.0798,"y":22.6},{"s":"O","x":0.1009,"y":18.9},{"s":"O","x":0.1045,"y":42},{"s":"O","x":0.11,"y":41},{"s":"O","x":0.115,"y":40},{"s":"O","x":0.108,"y":26.3},{"s":"O","x":0.11,"y":24},{"s":"O","x":0.113,"y":23},{"s":"O","x":0.1185,"y":43.9},{"s":"O","x":0.1185,"y":18},{"s":"O","x":0.125,"y":40.7},{"s":"O","x":0.1256,"y":31.4},{"s":"O","x":0.1397,"y":48},{"s":"O","x":0.1397,"y":20.3},{"s":"O","x":0.1397,"y":22.6},{"s":"O","x":0.135,"y":29.8},{"s":"O","x":0.145,"y":34},{"s":"O","x":0.155,"y":37},{"s":"O","x":0.16,"y":40},{"s":"O","x":0.165,"y":38},{"s":"O","x":0.17,"y":33},{"s":"O","x":0.175,"y":35},{"s":"O","x":0.1892,"y":51.2},{"s":"O","x":0.208,"y":51.2},{"s":"O","x":0.195,"y":45},{"s":"O","x":0.2,"y":43},{"s":"O","x":0.189,"y":29.1},{"s":"O","x":0.21,"y":39},{"s":"O","x":0.22,"y":42},{"s":"O","x":0.23,"y":36},{"s":"O","x":0.2421,"y":45.7},{"s":"O","x":0.2385,"y":31.4},{"s":"O","x":0.256,"y":49.4},{"s":"O","x":0.256,"y":30.9},{"s":"O","x":0.265,"y":35},{"s":"O","x":0.27,"y":38},{"s":"O","x":0.2844,"y":21.7},{"s":"O","x":0.2914,"y":47.1},{"s":"O","x":0.295,"y":39},{"s":"O","x":0.2985,"y":32.3},{"s":"O","x":0.31,"y":36},{"s":"O","x":0.3267,"y":47.6},{"s":"O","x":0.3267,"y":29.2},{"s":"O","x":0.33,"y":28},{"s":"O","x":0.3443,"y":46.2},{"s":"O","x":0.3549,"y":52.6},{"s":"O","x":0.3513,"y":32.3},{"s":"O","x":0.369,"y":50},{"s":"O","x":0.3724,"y":38.3},{"s":"O","x":0.3724,"y":19.4},{"s":"O","x":0.39,"y":43.4},{"s":"O","x":0.3866,"y":30},{"s":"O","x":0.4078,"y":49.4},{"s":"O","x":0.405,"y":47},{"s":"O","x":0.4078,"y":31.4},{"s":"O","x":0.41,"y":34},{"s":"O","x":0.4253,"y":39.3},{"s":"O","x":0.4289,"y":28.6},{"s":"O","x":0.436,"y":41.6},{"s":"O","x":0.4395,"y":30.9},{"s":"O","x":0.45,"y":35.5},{"s":"O","x":0.4537,"y":42},{"s":"O","x":0.457,"y":39.8},{"s":"O","x":0.4677,"y":25.8},{"s":"O","x":0.47,"y":27.6},{"s":"O","x":0.4748,"y":36},{"s":"O","x":0.4748,"y":30},{"s":"O","x":0.4924,"y":32.8},{"s":"O","x":0.4994,"y":42.5},{"s":"O","x":0.5066,"y":36},{"s":"O","x":0.5066,"y":30.7},{"s":"O","x":0.5207,"y":36.9},{"s":"O","x":0.531,"y":21.2},{"s":"O","x":0.5348,"y":21.6},{"s":"O","x":0.538,"y":35.1},{"s":"O","x":0.535,"y":34.2},{"s":"O","x":0.549,"y":14.3},{"s":"O","x":0.5665,"y":18},{"s":"O","x":0.584,"y":19.9},{"s":"O","x":0.591,"y":10.2},{"s":"O","x":0.6,"y":31.4},{"s":"O","x":0.28,"y":36},{"s":"O","x":0.32,"y":40},{"s":"O","x":0.34,"y":35},{"s":"O","x":0.36,"y":38},{"s":"O","x":0.38,"y":36},{"s":"O","x":0.4,"y":34}
]
},
"columns":2,
"align":"none",
"center":false,
"spacing":{"row":55,"column":47.5},
"resolve":{"scale":{"color":"independent","shape":"independent","size":"independent"},"legend":{"color":"independent","shape":"independent"}},
"concat":[
 {"width":370,"height":348,
  "layer":[
   {"data":{"name":"a"},
    "mark":{"type":"point","filled":true,"opacity":1,"strokeWidth":0},
    "encoding":{
     "x":{"field":"x","type":"quantitative","scale":{"domain":[0,0.8],"nice":false},"axis":{"title":"Average  Shale Density (fraction)","values":[0,0.2,0.4,0.6,0.8],"format":"~g","labelPadding":15,"titlePadding":19}},
     "y":{"field":"y","type":"quantitative","scale":{"domain":[0,4000],"nice":false},"axis":{"title":"Time  (days)","values":[0,500,1000,1500,2000,2500,3000,3500,4000],"format":"d","labelPadding":18,"titlePadding":5}},
     "color":{"field":"s","type":"nominal","scale":{"domain":["S","C6","C4"],"range":["#4472C4","#ED7D31","#A5A5A5"]},"legend":{"orient":"none","legendX":121,"legendY":24,"title":null,"rowPadding":6,"symbolSize":70,"labelOffset":4,"labelExpr":"datum.label == 'S' ? 'SAGD_time(csor=2.5)' : datum.label == 'C6' ? 'C6 ESSAGD_time (csor=2.5)' : 'C4 ESSAGD_time (csor=2.5)'"}},
     "shape":{"field":"s","type":"nominal","scale":{"domain":["S","C6","C4"],"range":["diamond","triangle-up","circle"]},"legend":{"orient":"none","legendX":121,"legendY":24,"title":null,"rowPadding":6,"symbolSize":70,"labelOffset":4,"labelExpr":"datum.label == 'S' ? 'SAGD_time(csor=2.5)' : datum.label == 'C6' ? 'C6 ESSAGD_time (csor=2.5)' : 'C4 ESSAGD_time (csor=2.5)'"}},
     "size":{"field":"s","type":"nominal","scale":{"domain":["S","C6","C4"],"range":[64,72,90]},"legend":null}
    }},
   {"data":{"name":"xt"},"mark":{"type":"rule","color":"black","strokeWidth":1.5},
    "encoding":{"x":{"field":"t","type":"quantitative"},"y":{"datum":0,"type":"quantitative"},"y2":{"datum":65}}},
   {"data":{"name":"yta"},"mark":{"type":"rule","color":"black","strokeWidth":1.5},
    "encoding":{"y":{"field":"t","type":"quantitative"},"x":{"datum":0,"type":"quantitative"},"x2":{"datum":0.0125}}},
   {"data":{"values":[{}]},"mark":{"type":"point","shape":"M 0,-1 C 0.1436,-1 0.26,-0.5523 0.26,0 C 0.26,0.5523 0.1436,1 0,1 C -0.1436,1 -0.26,0.5523 -0.26,0 C -0.26,-0.5523 -0.1436,-1 0,-1 Z","filled":false,"stroke":"#2F5597","strokeWidth":1.8,"size":78400,"angle":350,"opacity":1},
    "encoding":{"x":{"datum":0.0856,"type":"quantitative"},"y":{"datum":2295,"type":"quantitative"}}},
   {"data":{"values":[{}]},"mark":{"type":"point","shape":"M 0,-1 C 0.1436,-1 0.26,-0.5523 0.26,0 C 0.26,0.5523 0.1436,1 0,1 C -0.1436,1 -0.26,0.5523 -0.26,0 C -0.26,-0.5523 -0.1436,-1 0,-1 Z","filled":false,"stroke":"#2F5597","strokeWidth":1.8,"size":71824,"angle":97,"opacity":1},
    "encoding":{"x":{"datum":0.398,"type":"quantitative"},"y":{"datum":364,"type":"quantitative"}}},
   {"data":{"values":[{}]},"mark":{"type":"rule","color":"black","strokeWidth":1.8,"strokeDash":[10,6]},
    "encoding":{"x":{"datum":0.463,"type":"quantitative"},"y":{"datum":2203,"type":"quantitative"},"x2":{"datum":0.112},"y2":{"datum":150}}},
   {"data":{"values":[{}]},"mark":{"type":"point","shape":"M 0,0 L -0.5,-1.6 L 0.5,-1.6 Z","filled":true,"color":"black","size":126,"angle":41,"opacity":1},
    "encoding":{"x":{"datum":0.1057,"type":"quantitative"},"y":{"datum":77,"type":"quantitative"}}},
   {"data":{"values":[{}]},"mark":{"type":"text","text":"Transition point","font":"Liberation Serif","fontSize":18,"align":"center","baseline":"middle","color":"black"},
    "encoding":{"x":{"datum":0.555,"type":"quantitative"},"y":{"datum":2318,"type":"quantitative"}}},
   {"data":{"values":[{}]},"mark":{"type":"text","text":"(a)","font":"Liberation Sans","fontSize":19,"fontWeight":"bold","align":"right","baseline":"middle","color":"black"},
    "encoding":{"x":{"datum":0.781,"type":"quantitative"},"y":{"datum":3754,"type":"quantitative"}}}
  ]},
 {"width":374,"height":348,
  "layer":[
   {"data":{"name":"b"},
    "mark":{"type":"point","filled":true,"opacity":1,"strokeWidth":0},
    "encoding":{
     "x":{"field":"x","type":"quantitative","scale":{"domain":[0,0.8],"nice":false},"axis":{"title":"Average  Shale Density (fraction)","values":[0,0.2,0.4,0.6,0.8],"format":"~g","labelPadding":15,"titlePadding":19}},
     "y":{"field":"y","type":"quantitative","scale":{"domain":[0,100],"nice":false},"axis":{"title":"Bitumen  Recovery  (%)","values":[0,10,20,30,40,50,60,70,80,90,100],"format":"d","labelPadding":16,"titlePadding":6}},
     "color":{"field":"s","type":"nominal","scale":{"domain":["S","C6","C4"],"range":["#4472C4","#ED7D31","#A5A5A5"]},"legend":{"orient":"none","legendX":137,"legendY":33,"title":null,"rowPadding":10,"symbolSize":70,"labelOffset":4,"labelExpr":"datum.label == 'S' ? 'SAGD_RF (csor=2.5)' : datum.label == 'C6' ? 'C6 ESSAGD_RF (csor=2.5)' : 'C4 ESSAGD_RF (csor=2.5)'"}},
     "shape":{"field":"s","type":"nominal","scale":{"domain":["S","C6","C4"],"range":["diamond","triangle-up","circle"]},"legend":{"orient":"none","legendX":137,"legendY":33,"title":null,"rowPadding":10,"symbolSize":70,"labelOffset":4,"labelExpr":"datum.label == 'S' ? 'SAGD_RF (csor=2.5)' : datum.label == 'C6' ? 'C6 ESSAGD_RF (csor=2.5)' : 'C4 ESSAGD_RF (csor=2.5)'"}},
     "size":{"field":"s","type":"nominal","scale":{"domain":["S","C6","C4"],"range":[64,72,90]},"legend":null}
    }},
   {"data":{"name":"xt"},"mark":{"type":"rule","color":"black","strokeWidth":1.5},
    "encoding":{"x":{"field":"t","type":"quantitative"},"y":{"datum":0,"type":"quantitative"},"y2":{"datum":1.6}}},
   {"data":{"name":"ytb"},"mark":{"type":"rule","color":"black","strokeWidth":1.5},
    "encoding":{"y":{"field":"t","type":"quantitative"},"x":{"datum":0,"type":"quantitative"},"x2":{"datum":0.0122}}},
   {"data":{"values":[{}]},"mark":{"type":"rule","color":"black","strokeWidth":1.8,"strokeDash":[10,6]},
    "encoding":{"x":{"datum":0.124,"type":"quantitative"},"y":{"datum":100,"type":"quantitative"},"y2":{"datum":1.2}}},
   {"data":{"values":[{}]},"mark":{"type":"point","shape":"M -0.5,-1 L 0,0 L 0.5,-1","filled":false,"stroke":"black","strokeWidth":1.2,"size":196,"opacity":1},
    "encoding":{"x":{"datum":0.124,"type":"quantitative"},"y":{"datum":1,"type":"quantitative"}}},
   {"data":{"values":[{}]},"mark":{"type":"text","text":"(b)","font":"Liberation Sans","fontSize":19,"fontWeight":"bold","align":"right","baseline":"middle","color":"black"},
    "encoding":{"x":{"datum":0.7835,"type":"quantitative"},"y":{"datum":94,"type":"quantitative"}}}
  ]},
 {"width":371,"height":363,
  "layer":[
   {"data":{"name":"c"},
    "mark":{"type":"circle","opacity":1,"size":85},
    "encoding":{
     "x":{"field":"x","type":"quantitative","scale":{"domain":[0,0.8],"nice":false},"axis":{"title":"Average  Shale Density (fraction)","values":[0,0.2,0.4,0.6,0.8],"format":"~g","labelPadding":20.5,"titlePadding":10.5}},
     "y":{"field":"y","type":"quantitative","scale":{"domain":[0,100],"nice":false},"axis":{"title":"Net Recovery  Gain over  SAGD","values":[0,20,40,60,80,100],"format":"d","labelPadding":18,"titlePadding":15}},
     "color":{"field":"s","type":"nominal","scale":{"domain":["B","O"],"range":["#4472C4","#ED7D31"]},"legend":{"orient":"none","legendX":134,"legendY":46,"title":null,"rowPadding":9,"symbolSize":70,"symbolType":"circle","labelOffset":4,"encode":{"labels":{"update":{"lineHeight":{"value":21.5}}}},"labelExpr":"datum.label == 'B' ? ['Net Recovery Gain_C6 ES-', 'SAGD (csor=2.5)'] : ['Net Recovery Gain_C4 ES-', 'SAGD (csor=2.5)']"}}
    }},
   {"data":{"name":"xt"},"mark":{"type":"rule","color":"black","strokeWidth":1.5},
    "encoding":{"x":{"field":"t","type":"quantitative"},"y":{"datum":0,"type":"quantitative"},"y2":{"datum":1.55}}},
   {"data":{"name":"ytc"},"mark":{"type":"rule","color":"black","strokeWidth":1.5},
    "encoding":{"y":{"field":"t","type":"quantitative"},"x":{"datum":0,"type":"quantitative"},"x2":{"datum":0.0125}}},
   {"data":{"values":[{}]},"mark":{"type":"rule","color":"black","strokeWidth":1.8,"strokeDash":[10,6]},
    "encoding":{"x":{"datum":0.1165,"type":"quantitative"},"y":{"datum":100,"type":"quantitative"},"y2":{"datum":3}}},
   {"data":{"values":[{}]},"mark":{"type":"point","shape":"M -0.5,-1 L 0,0 L 0.5,-1","filled":false,"stroke":"black","strokeWidth":1.2,"size":196,"opacity":1},
    "encoding":{"x":{"datum":0.1165,"type":"quantitative"},"y":{"datum":2.8,"type":"quantitative"}}},
   {"data":{"values":[{}]},"mark":{"type":"text","text":"(c)","font":"Liberation Sans","fontSize":19,"fontWeight":"bold","align":"right","baseline":"middle","color":"black"},
    "encoding":{"x":{"datum":0.7755,"type":"quantitative"},"y":{"datum":93.7,"type":"quantitative"}}}
  ]},
 {"width":378,"height":361,
  "layer":[
   {"data":{"name":"d"},
    "mark":{"type":"circle","opacity":1,"size":85},
    "encoding":{
     "x":{"field":"x","type":"quantitative","scale":{"domain":[0,0.8],"nice":false},"axis":{"title":"Average  Shale Density (fraction)","values":[0,0.2,0.4,0.6,0.8],"format":"~g","labelPadding":20.5,"titlePadding":10.5}},
     "y":{"field":"y","type":"quantitative","scale":{"domain":[0,100],"nice":false},"axis":{"title":"Solvent  Retention (%)","values":[0,20,40,60,80,100],"format":"d","labelPadding":16,"titlePadding":3.5}},
     "color":{"field":"s","type":"nominal","scale":{"domain":["B","O"],"range":["#4472C4","#ED7D31"]},"legend":{"orient":"none","legendX":111,"legendY":43,"title":null,"rowPadding":9,"symbolSize":70,"symbolType":"circle","labelOffset":4,"encode":{"labels":{"update":{"lineHeight":{"value":21.5}}}},"labelExpr":"datum.label == 'B' ? ['C6 ESSAGD_% C6 Retention', '(csor=2.5)'] : ['C4 ESSAGD_% C4 Retention', '(csor=2.5)']"}}
    }},
   {"data":{"name":"xt"},"mark":{"type":"rule","color":"black","strokeWidth":1.5},
    "encoding":{"x":{"field":"t","type":"quantitative"},"y":{"datum":0,"type":"quantitative"},"y2":{"datum":1.55}}},
   {"data":{"name":"ytc"},"mark":{"type":"rule","color":"black","strokeWidth":1.5},
    "encoding":{"y":{"field":"t","type":"quantitative"},"x":{"datum":0,"type":"quantitative"},"x2":{"datum":0.0122}}},
   {"data":{"values":[{}]},"mark":{"type":"rule","color":"black","strokeWidth":1.8,"strokeDash":[10,6]},
    "encoding":{"x":{"datum":0.1185,"type":"quantitative"},"y":{"datum":100,"type":"quantitative"},"y2":{"datum":3.8}}},
   {"data":{"values":[{}]},"mark":{"type":"point","shape":"M -0.5,-1 L 0,0 L 0.5,-1","filled":false,"stroke":"black","strokeWidth":1.2,"size":196,"opacity":1},
    "encoding":{"x":{"datum":0.1185,"type":"quantitative"},"y":{"datum":3.6,"type":"quantitative"}}},
   {"data":{"values":[{}]},"mark":{"type":"text","text":"(d)","font":"Liberation Sans","fontSize":19,"fontWeight":"bold","align":"right","baseline":"middle","color":"black"},
    "encoding":{"x":{"datum":0.785,"type":"quantitative"},"y":{"datum":93.7,"type":"quantitative"}}}
  ]}
]
}
